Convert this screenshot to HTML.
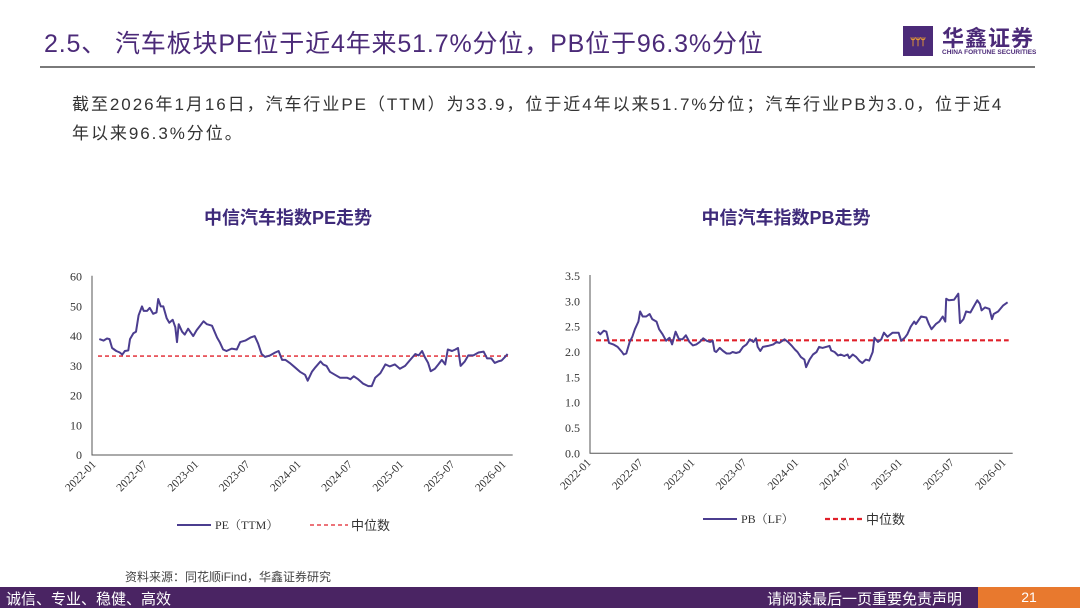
<!DOCTYPE html>
<html><head><meta charset="utf-8">
<style>
body{margin:0;width:1080px;height:608px;background:#fff;overflow:hidden;position:relative;font-family:"Liberation Sans","Noto Sans CJK SC",sans-serif}
.abs{position:absolute}
</style></head>
<body>
<div class="abs" style="left:44px;top:24px;font-size:25px;color:#4b2a78;font-family:'Liberation Sans','Noto Sans CJK SC',sans-serif;white-space:nowrap;letter-spacing:0.85px">2.5、 汽车板块PE位于近4年来51.7%分位，PB位于96.3%分位</div>
<div class="abs" style="left:40px;top:66px;width:995px;height:2px;background:#7a7a7a"></div>
<div class="abs" style="left:903px;top:26px;width:30px;height:30px;background:#4b2a78">
  <div style="position:absolute;left:7px;top:11px;color:#f0a030;font-size:10px;font-weight:bold;letter-spacing:-1px">ᛘᛘᛘ</div>
</div>
<div class="abs" style="left:942px;top:21px;font-size:22px;color:#4b2a78;font-weight:bold;letter-spacing:1px">华鑫证券</div>
<div class="abs" style="left:942px;top:49px;font-size:6.5px;color:#4b2a78;font-weight:bold;white-space:nowrap">CHINA FORTUNE SECURITIES</div>

<div class="abs" style="left:72px;top:90px;width:1000px;font-size:17px;line-height:29px;color:#333;white-space:nowrap;letter-spacing:1.95px">截至2026年1月16日，汽车行业PE（TTM）为33.9，位于近4年以来51.7%分位；汽车行业PB为3.0，位于近4<br>年以来96.3%分位。</div>

<svg class="abs" style="left:0;top:0" width="1080" height="608">
<g id="pe"></g>
<g id="pb"></g>
</svg>

<div class="abs" style="left:125px;top:568px;font-size:12px;color:#444">资料来源：同花顺iFind，华鑫证券研究</div>
<div class="abs" style="left:0;top:587px;width:1080px;height:21px;background:#4a2463"></div>
<div class="abs" style="left:6px;top:588px;font-size:15px;color:#fff">诚信、专业、稳健、高效</div>
<div class="abs" style="left:767px;top:588px;font-size:15px;color:#fff">请阅读最后一页重要免责声明</div>
<div class="abs" style="left:978px;top:587px;width:102px;height:21px;background:#e8792e;color:#fff;font-size:14px;text-align:center;line-height:21px">21</div>

<script>
const xTicks=["2022-01","2022-07","2023-01","2023-07","2024-01","2024-07","2025-01","2025-07","2026-01"];
const peMonths=[0.3,0.8,1.2,1.5,1.8,2.3,2.7,3.0,3.3,3.7,3.9,4.3,4.6,4.9,5.3,5.5,5.9,6.2,6.6,7.0,7.2,7.5,7.8,8.2,8.5,8.9,9.2,9.4,9.6,10.0,10.3,10.7,11.3,11.7,12.1,12.5,12.9,13.5,14.1,14.4,14.8,15.2,15.8,16.4,16.8,17.4,18.0,18.5,18.9,19.3,19.7,20.3,20.9,21.3,21.7,22.1,22.6,23.2,23.8,24.4,24.7,25.2,25.6,26.2,26.5,26.9,27.3,27.9,28.5,29.3,29.7,30.1,30.6,31.2,31.8,32.2,32.6,33.2,33.8,34.3,34.9,35.5,36.1,36.7,37.3,37.7,38.1,38.4,38.8,39.1,39.6,40.0,40.4,40.8,41.1,41.6,42.0,42.3,42.6,43.1,43.5,44.1,44.7,45.3,45.7,46.2,46.6,47.0,47.4,47.8,48.1];
const peValues=[39,38.5,39.2,39,36,35,34.5,33.8,35,35.2,39,41,41.5,47,50,48.5,48.5,49.5,47.5,48,52.5,50,50,46,44.5,45.5,43,38,44,41.5,40.5,42.5,40,42,43.5,45,44,43.5,39.5,38,35.5,35,35.8,35.5,38,38.5,39.5,40,37.5,34,33,33.5,34.5,35,32,32,31,29.5,28,27,25,28,29.5,31.5,30.5,30,28,27,26,26,25.5,26.5,25.5,24,23.2,23.2,26,27.5,30.5,29.8,30.5,29,30,32,34,33.5,35,33,31,28.2,29,30.5,32,30.5,35.5,35,35.5,36,30,31.5,33.5,33.5,34.5,34.8,32.5,32.5,31,31.5,31.8,33,34];
const peMedian=33.3;
const peYTicks=[0,10,20,30,40,50,60];
const pbMonths=[0.7,1.0,1.4,1.7,2.0,2.5,3.0,3.5,3.7,4.0,4.4,4.7,5.0,5.4,5.6,5.9,6.3,6.7,7.0,7.5,7.8,8.2,8.6,9.0,9.3,9.7,10.1,10.5,10.9,11.3,11.7,12.1,12.5,12.9,13.3,13.7,14.0,14.2,14.4,14.8,15.2,15.6,16.0,16.3,16.7,17.1,17.5,17.9,18.3,18.7,19.0,19.2,19.5,19.8,20.4,21.0,21.4,21.7,22.3,22.7,23.1,23.5,23.8,24.2,24.6,24.8,25.2,25.6,26.0,26.3,26.7,27.1,27.5,27.7,28.1,28.5,28.8,29.2,29.6,29.8,30.2,30.6,31.0,31.3,31.7,32.1,32.5,32.7,33.1,33.5,33.8,34.2,34.8,35.5,35.8,36.2,36.5,36.9,37.3,37.5,38.1,38.7,39.0,39.3,39.8,40.2,40.6,40.9,41.0,41.3,41.9,42.4,42.6,43.0,43.3,43.8,44.2,44.6,44.9,45.1,45.5,46.0,46.3,46.5,47.0,47.6,48.1];
const pbValues=[2.4,2.35,2.42,2.4,2.18,2.15,2.1,2.0,1.95,1.97,2.2,2.3,2.45,2.6,2.8,2.7,2.7,2.75,2.65,2.6,2.45,2.35,2.22,2.28,2.15,2.4,2.25,2.25,2.33,2.2,2.13,2.15,2.2,2.27,2.22,2.2,2.22,2.02,2.0,2.08,2.02,1.97,1.97,2.0,1.98,2.0,2.1,2.15,2.25,2.2,2.27,2.1,2.02,2.1,2.12,2.15,2.2,2.18,2.25,2.2,2.13,2.05,2.0,1.9,1.85,1.7,1.85,1.95,2.0,2.1,2.08,2.1,2.12,2.03,2.0,1.93,1.95,1.92,1.95,1.88,1.95,1.9,1.82,1.78,1.85,1.83,2.0,2.28,2.2,2.25,2.38,2.3,2.38,2.38,2.22,2.28,2.35,2.5,2.6,2.55,2.7,2.68,2.55,2.45,2.55,2.6,2.7,2.6,3.05,3.02,3.03,3.15,2.57,2.65,2.8,2.78,2.9,3.02,2.95,2.82,2.88,2.85,2.65,2.75,2.8,2.92,2.98];
const pbMedian=2.23;
const pbYTicks=["0.0","0.5","1.0","1.5","2.0","2.5","3.0","3.5"];

const NS="http://www.w3.org/2000/svg";
function mk(parent,tag,attrs,text){const e=document.createElementNS(NS,tag);for(const k in attrs)e.setAttribute(k,attrs[k]);if(text!=null)e.textContent=text;parent.appendChild(e);return e;}

function drawChart(g,cfg){
  const xs=m=>cfg.x0+(m/48)*(cfg.x1-cfg.x0);
  const ys=v=>cfg.y0-(v/cfg.ymax)*(cfg.y0-cfg.ytop);
  const t=mk(g,'text',{x:cfg.cx,y:224,'text-anchor':'middle','font-size':18,'font-weight':'bold',fill:'#3e2a7a','font-family':'Liberation Sans,Noto Sans CJK SC,sans-serif'},cfg.title);
  
  
  const ax=mk(g,'path',{d:`M${cfg.axX},${ys(cfg.ymax)-1}V${cfg.y0}H${cfg.x1+6}`,stroke:'#555',fill:'none','stroke-width':1});
  
  
  cfg.yticks.forEach(v=>{
    const tt=mk(g,'text',{x:cfg.axX-10,y:ys(parseFloat(v))+4,'text-anchor':'end','font-size':12,fill:'#333','font-family':'Liberation Serif,serif'},v);
    
    
  });
  xTicks.forEach((lab,i)=>{
    const x=xs(i*6);
    const tt=mk(g,'text',{x:x,y:cfg.y0+10,'text-anchor':'end','font-size':11.5,fill:'#333','font-family':'Liberation Serif,serif',transform:`rotate(-45 ${x} ${cfg.y0+10})`},lab);
    
    
  });
  const med=mk(g,'line',{x1:cfg.axX+6,x2:cfg.x1+2,y1:ys(cfg.median),y2:ys(cfg.median),stroke:'#e0202a','stroke-width':cfg.medW,'stroke-dasharray':cfg.dash});
  
  
  const pts=cfg.months.map((m,i)=>xs(m).toFixed(1)+','+ys(cfg.values[i]).toFixed(1)).join(' ');
  const ln=mk(g,'polyline',{points:pts,fill:'none',stroke:'#4b3d8f','stroke-width':2,'stroke-linejoin':'round'});
  
  
  const l1=mk(g,'line',{x1:cfg.lg[0],x2:cfg.lg[0]+34,y1:cfg.lg[2],y2:cfg.lg[2],stroke:'#4b3d8f','stroke-width':2});
  
  
  const lt=mk(g,'text',{x:cfg.lg[0]+38,y:cfg.lg[2]+4,'font-size':12,fill:'#333','font-family':'Liberation Serif,Noto Serif CJK SC,serif'},cfg.legend);
  
  
  const l2=mk(g,'line',{x1:cfg.lg[1],x2:cfg.lg[1]+38,y1:cfg.lg[2],y2:cfg.lg[2],stroke:'#e0202a','stroke-width':cfg.medW,'stroke-dasharray':cfg.dash});
  
  
  const mt=mk(g,'text',{x:cfg.lg[1]+41,y:cfg.lg[2]+5,'font-size':13,fill:'#333','font-family':'Liberation Sans,Noto Sans CJK SC,sans-serif'},'中位数');
  
  
}
drawChart(document.getElementById('pe'),{title:'中信汽车指数PE走势',cx:288,x0:96.7,x1:506.7,axX:92,y0:455,ytop:276.7,ymax:60,yticks:peYTicks.map(String),median:peMedian,months:peMonths,values:peValues,legend:'PE（TTM）',lg:[177,310,525],medW:1.3,dash:'4,3'});
drawChart(document.getElementById('pb'),{title:'中信汽车指数PB走势',cx:786,x0:591.7,x1:1006.7,axX:590,y0:453.3,ytop:276,ymax:3.5,yticks:pbYTicks,median:pbMedian,months:pbMonths,values:pbValues,legend:'PB（LF）',lg:[703,825,519],medW:2.2,dash:'5,3'});
</script>
</body></html>
